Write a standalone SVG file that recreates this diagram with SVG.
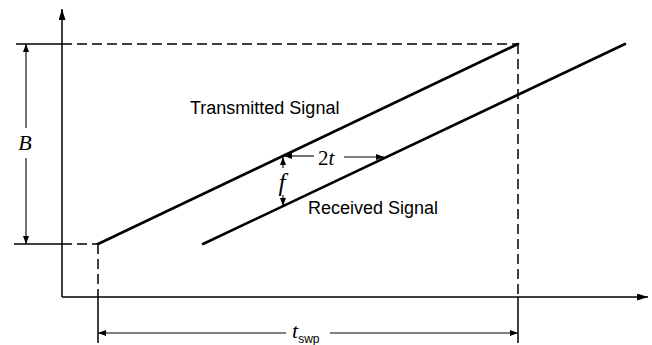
<svg xmlns="http://www.w3.org/2000/svg" width="652" height="345" viewBox="0 0 652 345">
<style>
.ax{stroke:#000;stroke-width:1.5;fill:none}
.dash{stroke:#000;stroke-width:1.5;fill:none;stroke-dasharray:10 5}
.sig{stroke:#000;stroke-width:2.6;fill:none;stroke-linecap:round}
.dim{stroke:#000;stroke-width:1.1;fill:none}
.lab{font-family:"Liberation Sans",Arial,sans-serif;font-size:18px;fill:#000}
.sym{font-family:"Liberation Serif","Times New Roman",serif;font-style:italic;fill:#000}
</style>
<defs>
<marker id="ah" markerUnits="userSpaceOnUse" markerWidth="12" markerHeight="8" refX="11" refY="3.5" orient="auto">
<path d="M0,0 L11,3.5 L0,7 z" fill="#000"/>
</marker>
<marker id="ahs" markerUnits="userSpaceOnUse" markerWidth="9" markerHeight="7" refX="8" refY="3" orient="auto">
<path d="M0,0 L8,3 L0,6 z" fill="#000"/>
</marker>
</defs>
<rect width="652" height="345" fill="#fff"/>
<g id="connectors">
<line class="ax" x1="62" y1="297" x2="62" y2="9" marker-end="url(#ah)"/>
<line class="ax" x1="62" y1="297" x2="648" y2="297" marker-end="url(#ah)"/>
<line class="ax" x1="16" y1="44" x2="62" y2="44"/>
<line class="dash" x1="62" y1="44" x2="518" y2="44"/>
<line class="ax" x1="14" y1="244" x2="62" y2="244"/>
<line class="dash" x1="62" y1="244" x2="98" y2="244"/>
<line class="dash" x1="98" y1="244" x2="98" y2="297"/>
<line class="ax" x1="98" y1="297" x2="98" y2="343"/>
<line class="dash" x1="518" y1="44" x2="518" y2="297"/>
<line class="ax" x1="518" y1="297" x2="518" y2="343"/>
<line class="dim" x1="26" y1="128" x2="26" y2="44" marker-end="url(#ahs)"/>
<line class="dim" x1="26" y1="158" x2="26" y2="244" marker-end="url(#ahs)"/>
<line class="dim" x1="286" y1="333" x2="98" y2="333" marker-end="url(#ahs)"/>
<line class="dim" x1="330" y1="333" x2="518" y2="333" marker-end="url(#ahs)"/>
<line class="dim" x1="314" y1="156" x2="284" y2="156" marker-end="url(#ahs)"/>
<line class="dim" x1="344" y1="157" x2="384" y2="157" marker-end="url(#ahs)"/>
<line class="dim" x1="283" y1="168" x2="283" y2="157" marker-end="url(#ahs)"/>
<line class="dim" x1="283" y1="195" x2="283" y2="206" marker-end="url(#ahs)"/>
</g>
<g id="transmitted">
<line class="sig" x1="98" y1="244" x2="518" y2="44"/>
<text class="lab" x="190" y="114">Transmitted Signal</text>
</g>
<g id="received">
<line class="sig" x1="203" y1="244" x2="625" y2="44"/>
<text class="lab" x="308" y="214">Received Signal</text>
</g>
<g id="labels">
<text class="sym" x="25" y="150" font-size="22" text-anchor="middle">B</text>
<text x="318" y="165" font-family="Liberation Serif,serif" font-size="21">2<tspan font-style="italic">t</tspan></text>
<text class="sym" x="282" y="191" font-size="25" text-anchor="middle">f</text>
<text x="292" y="338" font-family="Liberation Serif,serif" font-size="22"><tspan font-style="italic">t</tspan><tspan font-family="Liberation Sans,sans-serif" font-size="12" dy="5">swp</tspan></text>
</g>
</svg>
